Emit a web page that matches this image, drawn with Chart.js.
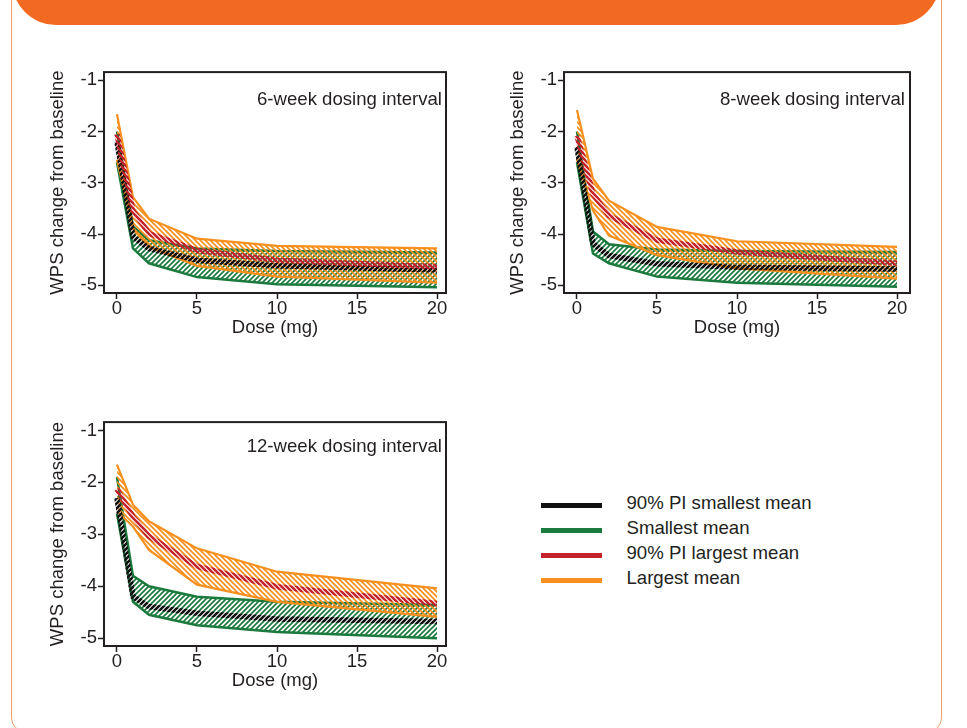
<!DOCTYPE html>
<html>
<head>
<meta charset="utf-8">
<script src="https://cdn.jsdelivr.net/npm/chart.js@4"></script>
<style>
  html, body { margin: 0; padding: 0; background: #fff; }
  body { width: 967px; height: 728px; position: relative; overflow: hidden;
         font-family: "Liberation Sans", Arial, sans-serif; color: #231f20; }
  .frame { position: absolute; left: 11px; top: -30px; width: 929px; height: 760px;
           border: 1.5px solid #f5a06b; border-radius: 14px; }
  .banner { position: absolute; left: 12px; top: -40px; width: 928px; height: 65px;
            background: #f26a21; border-radius: 0 0 44px 44px; }
  canvas { position: absolute; }
  .tag { position: absolute; font-size: 18.6px; line-height: 22px; white-space: nowrap; }
  .legend { position: absolute; left: 541px; top: 490.2px; }
  .legend .row { position: relative; height: 25px; }
  .legend .sw { position: absolute; left: 0; top: 13px; width: 61px; height: 5px; }
  .legend .lab { position: absolute; left: 85.5px; top: 0; font-size: 18.6px; line-height: 25px; white-space: nowrap; }
</style>
</head>
<body>
<div class="frame"></div>
<div class="banner"></div>
<div id="root"></div>
<div class="legend" id="legend"></div>
<script>
// Dose grid (mg) and axis ticks
const doses = [0, 1, 2, 5, 10, 20];
const xTicks = [0, 5, 10, 15, 20];
const yTicks = [-5, -4, -3, -2, -1];

const panelTitles = ['6-week dosing interval', '8-week dosing interval', '12-week dosing interval'];
const legendLabels = ['90% PI smallest mean', 'Smallest mean', '90% PI largest mean', 'Largest mean'];
const xTitle = 'Dose (mg)';
const yTitle = 'WPS change from baseline';

// 6-week dosing interval
const w6SmallHi  = [-2.00, -3.85, -4.12, -4.28, -4.33, -4.36];
const w6SmallLo  = [-2.60, -4.28, -4.57, -4.84, -4.98, -5.04];
const w6SmallMid = [-2.20, -4.05, -4.28, -4.51, -4.62, -4.70];
const w6LargeHi  = [-1.66, -3.28, -3.70, -4.09, -4.23, -4.28];
const w6LargeLo  = [-2.55, -3.90, -4.25, -4.62, -4.83, -4.95];
const w6LargeMid = [-2.05, -3.54, -3.99, -4.32, -4.51, -4.64];

// 8-week dosing interval
const w8SmallHi  = [-2.00, -3.95, -4.20, -4.30, -4.33, -4.35];
const w8SmallLo  = [-2.60, -4.38, -4.57, -4.83, -4.95, -5.03];
const w8SmallMid = [-2.30, -4.19, -4.42, -4.58, -4.65, -4.68];
const w8LargeHi  = [-1.58, -2.92, -3.35, -3.86, -4.14, -4.25];
const w8LargeLo  = [-2.54, -3.54, -4.03, -4.41, -4.67, -4.87];
const w8LargeMid = [-2.08, -3.22, -3.64, -4.12, -4.35, -4.57];

// 12-week dosing interval
const w12SmallHi  = [-1.90, -3.80, -4.00, -4.20, -4.30, -4.36];
const w12SmallLo  = [-2.60, -4.30, -4.55, -4.75, -4.88, -5.00];
const w12SmallMid = [-2.30, -4.20, -4.39, -4.52, -4.63, -4.68];
const w12LargeHi  = [-1.66, -2.43, -2.75, -3.27, -3.72, -4.04];
const w12LargeLo  = [-2.56, -2.85, -3.30, -3.97, -4.30, -4.59];
const w12LargeMid = [-2.13, -2.66, -3.04, -3.62, -4.01, -4.33];

const COLORS = { black: '#111111', green: '#1b7a3d', red: '#c4232b', orange: '#f7901e', ink: '#231f20' };

// Diagonal stripe pattern; dir > 0 draws "/" stripes, dir < 0 draws "\" stripes
function stripes(color, dir, tile, width) {
  const c = document.createElement('canvas');
  c.width = tile; c.height = tile;
  const g = c.getContext('2d');
  g.strokeStyle = color; g.lineWidth = width; g.lineCap = 'square';
  g.beginPath();
  if (dir > 0) {
    g.moveTo(0, tile); g.lineTo(tile, 0);
    g.moveTo(-tile, tile); g.lineTo(tile, -tile);
    g.moveTo(0, 2 * tile); g.lineTo(2 * tile, 0);
  } else {
    g.moveTo(0, 0); g.lineTo(tile, tile);
    g.moveTo(-tile, 0); g.lineTo(tile, 2 * tile);
    g.moveTo(0, -tile); g.lineTo(2 * tile, tile);
  }
  g.stroke();
  return g.createPattern(c, 'repeat');
}

const greenHatch = stripes(COLORS.green, 1, 5, 1.7);
const orangeHatch = stripes(COLORS.orange, -1, 5, 1.7);
const blackDash = stripes(COLORS.black, 1, 5, 2.5);
const redDash = stripes(COLORS.red, -1, 5, 2.5);

Chart.defaults.font.family = '"Liberation Sans", Arial, sans-serif';
Chart.defaults.font.size = 18.5;
Chart.defaults.color = COLORS.ink;

const framePlugin = {
  id: 'frame',
  afterDraw(chart) {
    const { ctx, chartArea: a } = chart;
    ctx.save();
    ctx.strokeStyle = COLORS.ink;
    ctx.lineWidth = 2;
    ctx.strokeRect(a.left, a.top, a.right - a.left, a.bottom - a.top);
    ctx.restore();
  }
};

function pts(values) { return doses.map((d, i) => ({ x: d, y: values[i] })); }

const panels = [
  { left: 40,  top: 60,  w: 420, h: 285, xMax: 20.56, title: panelTitles[0], tagRight: 525, tagTop: 88.3,
    s: [w6SmallLo, w6SmallHi, w6SmallMid], l: [w6LargeLo, w6LargeHi, w6LargeMid] },
  { left: 500, top: 60,  w: 424, h: 285, xMax: 20.81, title: panelTitles[1], tagRight: 62, tagTop: 88.3,
    s: [w8SmallLo, w8SmallHi, w8SmallMid], l: [w8LargeLo, w8LargeHi, w8LargeMid] },
  { left: 40,  top: 410, w: 420, h: 288, xMax: 20.56, title: panelTitles[2], tagRight: 525, tagTop: 435.3,
    s: [w12SmallLo, w12SmallHi, w12SmallMid], l: [w12LargeLo, w12LargeHi, w12LargeMid] }
];

const root = document.getElementById('root');

panels.forEach(p => {
  const cv = document.createElement('canvas');
  cv.width = p.w; cv.height = p.h;
  cv.style.left = p.left + 'px'; cv.style.top = p.top + 'px';
  root.appendChild(cv);

  const tag = document.createElement('div');
  tag.className = 'tag';
  tag.textContent = p.title;
  tag.style.right = p.tagRight + 'px';
  tag.style.top = p.tagTop + 'px';
  root.appendChild(tag);

  const line = (data, color, width, extra) => Object.assign({
    data: pts(data), borderColor: color, borderWidth: width, pointRadius: 0,
    tension: 0, fill: false, borderCapStyle: 'butt', borderJoinStyle: 'miter'
  }, extra || {});

  const datasets = [
    line(p.l[2], redDash, 5.5),                                   // largest-mean centre line
    line(p.s[2], blackDash, 5.5),                                 // smallest-mean centre line
    line(p.l[0], COLORS.orange, 2.2, { fill: '+1', backgroundColor: orangeHatch }),
    line(p.l[1], COLORS.orange, 2.2),
    line(p.s[0], COLORS.green, 2.5, { fill: '+1', backgroundColor: greenHatch }),
    line(p.s[1], COLORS.green, 2.5)
  ];

  new Chart(cv, {
    type: 'line',
    data: { datasets },
    plugins: [framePlugin],
    options: {
      responsive: false,
      animation: false,
      events: [],
      layout: { padding: { left: 0, top: 11, right: 14, bottom: 0 } },
      plugins: { legend: { display: false }, tooltip: { enabled: false } },
      scales: {
        x: {
          type: 'linear', min: -0.81, max: p.xMax,
          afterBuildTicks: s => { s.ticks = xTicks.map(v => ({ value: v })); },
          afterFit: s => { s.height = 52; },
          ticks: { padding: -1, maxRotation: 0, autoSkip: false, color: COLORS.ink },
          grid: { display: true, drawOnChartArea: false, drawTicks: true, tickLength: 6, tickWidth: 1.5, color: COLORS.ink },
          border: { display: false },
          title: { display: true, text: xTitle, padding: { top: 0, bottom: 6 }, color: COLORS.ink }
        },
        y: {
          type: 'linear', min: -5.15, max: -0.84,
          afterBuildTicks: s => { s.ticks = yTicks.map(v => ({ value: v })); },
          afterFit: s => { s.width = 64; },
          ticks: { padding: 1, autoSkip: false, color: COLORS.ink },
          grid: { display: true, drawOnChartArea: false, drawTicks: true, tickLength: 6, tickWidth: 1.5, color: COLORS.ink },
          border: { display: false },
          title: { display: true, text: yTitle, padding: { top: 6.7, bottom: 0 }, color: COLORS.ink }
        }
      }
    }
  });
});

// Legend
const legendColors = [COLORS.black, COLORS.green, COLORS.red, COLORS.orange];
const legend = document.getElementById('legend');
legendLabels.forEach((label, i) => {
  const row = document.createElement('div');
  row.className = 'row';
  const sw = document.createElement('div');
  sw.className = 'sw';
  sw.style.background = legendColors[i];
  const lab = document.createElement('div');
  lab.className = 'lab';
  lab.textContent = label;
  row.appendChild(sw); row.appendChild(lab);
  legend.appendChild(row);
});
</script>
</body>
</html>
